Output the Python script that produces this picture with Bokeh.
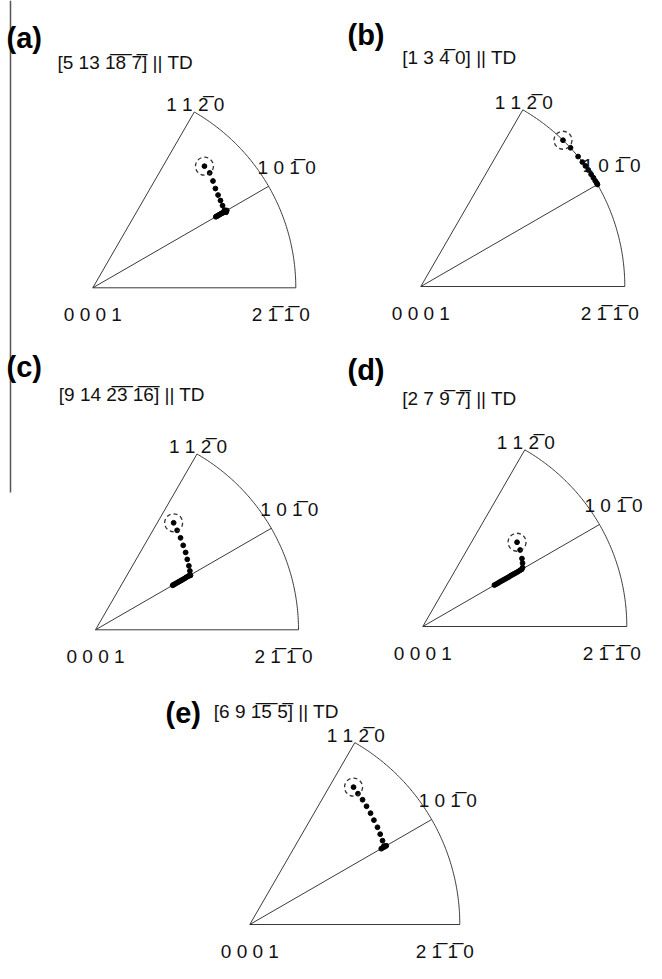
import numpy as np
from bokeh.plotting import figure
from bokeh.models import Range1d
from bokeh.embed import file_html
from bokeh.resources import INLINE
from bokeh.core.properties import value

OL = "\u0305"


def over(s):
    return "".join(ch + OL for ch in s)


# ---------------- data ----------------
panel_tags = ["(a)", "(b)", "(c)", "(d)", "(e)"]
td_directions = [
    f"[5 13 {over('18')} {over('7')}] || TD",
    f"[1 3 {over('4')} 0] || TD",
    f"[9 14 {over('23')} {over('16')}] || TD",
    f"[2 7 {over('9')} {over('7')}] || TD",
    f"[6 9 {over('15')} {over('5')}] || TD",
]
pole_center = "0 0 0 1"
pole_names = [f"2 {over('1')} {over('1')} 0", f"1 0 {over('1')} 0", f"1 1 {over('2')} 0"]
pole_azimuth_deg = [0, 30, 60]

# orientation paths (stereographic IPF coordinates, sector radius = 1); first point = start (circled)
path_a_x = [0.550, 0.576, 0.592, 0.604, 0.617, 0.629, 0.639, 0.649, 0.657,
            0.660, 0.655, 0.650, 0.645, 0.640, 0.635, 0.630, 0.625, 0.620, 0.615, 0.610, 0.606]
path_a_y = [0.599, 0.566, 0.526, 0.489, 0.457, 0.430, 0.405, 0.383, 0.372,
            0.381, 0.378, 0.375, 0.372, 0.369, 0.367, 0.364, 0.361, 0.358, 0.355, 0.352, 0.350]

path_b_x = [0.697, 0.734, 0.771, 0.792, 0.807, 0.821, 0.835, 0.846, 0.855, 0.862, 0.866]
path_b_y = [0.717, 0.680, 0.637, 0.610, 0.591, 0.571, 0.550, 0.533, 0.518, 0.508, 0.500]

path_c_x = [0.385, 0.402, 0.419, 0.432, 0.444, 0.452, 0.460, 0.465, 0.468,
            0.462, 0.455, 0.448, 0.441, 0.434, 0.427, 0.420, 0.413, 0.406, 0.399, 0.392, 0.385, 0.380]
path_c_y = [0.527, 0.490, 0.453, 0.416, 0.381, 0.347, 0.315, 0.290, 0.268,
            0.267, 0.263, 0.259, 0.254, 0.250, 0.246, 0.242, 0.238, 0.234, 0.230, 0.226, 0.222, 0.219]

path_d_x = [0.462, 0.477, 0.486, 0.489, 0.489,
            0.485, 0.476, 0.467, 0.458, 0.449, 0.440, 0.431, 0.422, 0.413, 0.404, 0.395, 0.386,
            0.377, 0.368, 0.359, 0.351]
path_d_y = [0.413, 0.375, 0.333, 0.311, 0.289,
            0.280, 0.275, 0.269, 0.264, 0.259, 0.254, 0.249, 0.243, 0.238, 0.233, 0.228, 0.223,
            0.218, 0.212, 0.207, 0.203]

path_e_x = [0.494, 0.515, 0.537, 0.556, 0.575, 0.591, 0.608, 0.621, 0.632, 0.638,
            0.650, 0.644, 0.638, 0.632, 0.626]
path_e_y = [0.654, 0.623, 0.594, 0.563, 0.530, 0.497, 0.463, 0.430, 0.399, 0.373,
            0.375, 0.372, 0.368, 0.365, 0.361]

paths = [(path_a_x, path_a_y), (path_b_x, path_b_y), (path_c_x, path_c_y),
         (path_d_x, path_d_y), (path_e_x, path_e_y)]

# ---------------- layout (canvas pixels) ----------------
origin_px = [(92.3, 287.3), (420.3, 286.0), (95.0, 629.3), (422.3, 626.0), (249.3, 924.0)]
radius_px = [203, 204, 203, 204, 210]
tag_pos = [(6, 37), (347, 34), (6, 366), (347, 369), (165, 712)]
td_pos = [(57, 61.5), (401.7, 57), (58.3, 394), (401.7, 398), (213.3, 711)]
pole10_dx = [-11, -15, -11, -15, -13]

W, H = 646, 963
p = figure(width=W, height=H, output_backend="svg", toolbar_location=None,
           x_range=Range1d(0, W), y_range=Range1d(-H, 0),
           x_axis_type=None, y_axis_type=None, min_border=0,
           background_fill_color="white", border_fill_color="white")
p.outline_line_color = None
p.grid.visible = False

FONT = value("Liberation Sans")
LINE = "#3a3a3a"
TXT = "#111111"
POLE_FS = "19px"

# page-edge vertical rule
p.line(x=[10, 10], y=[0, -492], line_color="#555555", line_width=1.5)

for i in range(5):
    ox, oy = origin_px[i]
    R = radius_px[i]
    px = lambda u: ox + R * np.asarray(u)
    py = lambda v: -(oy - R * np.asarray(v))

    # sector edges and 30-degree line
    for az in pole_azimuth_deg:
        t = np.deg2rad(az)
        p.line(x=[px(0), px(np.cos(t))], y=[py(0), py(np.sin(t))], line_color=LINE, line_width=1)
    tt = np.deg2rad(np.linspace(pole_azimuth_deg[0], pole_azimuth_deg[-1], 120))
    p.line(x=px(np.cos(tt)), y=py(np.sin(tt)), line_color=LINE, line_width=1)

    # orientation path
    xs, ys = paths[i]
    p.scatter(x=px(xs), y=py(ys), size=4.8, color="black")
    p.scatter(x=[px(xs[0])], y=[py(ys[0])], size=18, fill_color=None,
              line_color="#333333", line_width=1.3, line_dash="4 3")

    # pole labels
    p.text(x=[px(0) - 29], y=[py(0) - 27], text=[pole_center], text_font=FONT,
           text_font_size=POLE_FS, text_color=TXT, text_align="left", text_baseline="alphabetic")
    t0 = np.deg2rad(pole_azimuth_deg[0])
    p.text(x=[px(np.cos(t0)) + 14], y=[py(np.sin(t0)) - 27], text=[pole_names[0]], text_font=FONT,
           text_font_size=POLE_FS, text_color=TXT, text_align="right", text_baseline="alphabetic")
    t1 = np.deg2rad(pole_azimuth_deg[1])
    p.text(x=[px(np.cos(t1)) + pole10_dx[i]], y=[py(np.sin(t1)) + 19], text=[pole_names[1]], text_font=FONT,
           text_font_size=POLE_FS, text_color=TXT, text_align="left", text_baseline="alphabetic")
    t2 = np.deg2rad(pole_azimuth_deg[2])
    p.text(x=[px(np.cos(t2)) + 1], y=[py(np.sin(t2)) + 7], text=[pole_names[2]], text_font=FONT,
           text_font_size=POLE_FS, text_color=TXT, text_align="center", text_baseline="alphabetic")

    # panel tag and direction
    tx, ty = tag_pos[i]
    p.text(x=[tx], y=[-ty], text=[panel_tags[i]], text_font=FONT, text_font_size="29px",
           text_font_style="bold", text_color="black", text_baseline="alphabetic")
    dx, dy = td_pos[i]
    p.text(x=[dx], y=[-dy], text=[td_directions[i]], text_font=FONT, text_font_size="19px",
           text_color=TXT, text_baseline="alphabetic")

open("out.html", "w").write(file_html(p, INLINE))
